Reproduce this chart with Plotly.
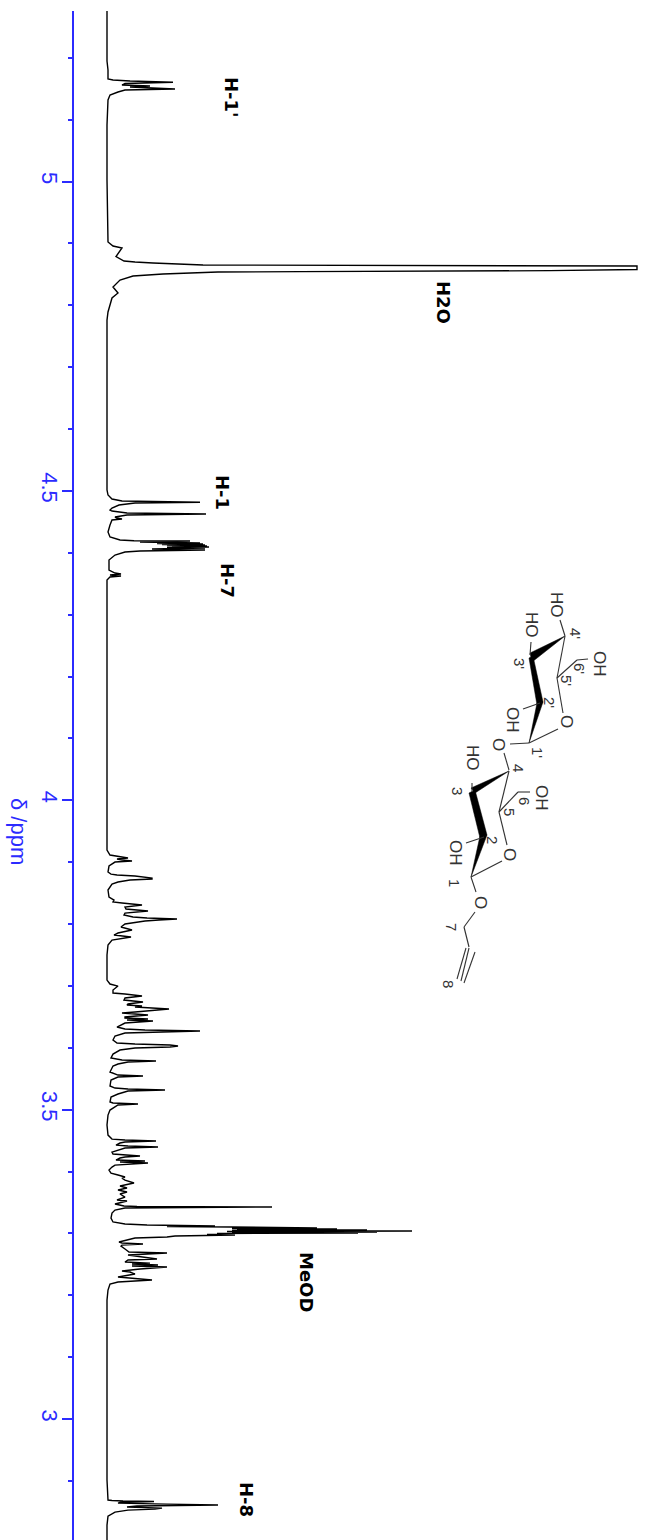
import plotly.graph_objects as go

# Spectrum, region by region: (chemical shift in ppm, signal height in a.u.)
h1p_region = [(5.2755,0),(5.1947,0),(5.1802,1),(5.1656,1),(5.1640,6),(5.1624,23),(5.1603,66),(5.1583,18),(5.1559,15),
              (5.1543,43),(5.1527,23),(5.1495,68),(5.1487,43),(5.1478,18),(5.1446,11),(5.1398,3),(5.1317,1),(5.0913,0)]
water_region = [(5.0024,0),(4.9539,0.5),(4.9022,1),(4.8957,6),(4.8925,15),(4.8787,9),(4.8715,17),(4.8699,28),(4.8682,46),
                (4.8650,96),(4.8645,193),(4.8634,530),(4.8577,530),(4.8559,443),(4.8543,193),(4.8537,111),(4.8505,56),
                (4.8472,26),(4.8408,13),(4.8294,6),(4.8198,11),(4.8117,5),(4.7891,1),(4.7761,0)]
h1_h7_region = [(4.5175,0),(4.5014,0),(4.4933,1),(4.4868,5),(4.4836,15),(4.4815,93),(4.4803,28),(4.4771,12),(4.4723,5),
                (4.4690,3),(4.4674,5),(4.4642,20),(4.4626,99),(4.4610,20),(4.4577,8),(4.4561,10),(4.4545,15),(4.4529,5),
                (4.4448,3),(4.4335,1),(4.4254,3),(4.4206,13),(4.4194,27),(4.4189,83),(4.4173,33),(4.4157,93),(4.4149,50),
                (4.4141,96),(4.4133,55),(4.4125,98),(4.4117,60),(4.4109,100),(4.4100,65),(4.4092,102),(4.4084,60),
                (4.4076,98),(4.4060,45),(4.4044,98),(4.4028,33),(4.4012,18),(4.3963,8),(4.3882,2),(4.3721,2),(4.3672,8),
                (4.3656,14),(4.3640,3),(4.3624,14),(4.3608,3),(4.3559,0),(4.3236,0)]
sugar_a = [(4.0003,0),(3.9357,0),(3.9195,0),(3.9115,3),(3.9082,18),(3.9066,21),(3.9050,10),(3.9034,15),(3.9017,25),(3.9001,8),
           (3.8937,2),(3.8840,1),(3.8807,4),(3.8791,10),(3.8775,28),(3.8759,40),(3.8743,45),(3.8727,45),(3.8711,23),(3.8678,11),
           (3.8646,5),(3.8549,1),(3.8436,2),(3.8387,7),(3.8355,6),(3.8339,15),(3.8306,35),(3.8274,18),(3.8242,19),(3.8209,41),
           (3.8177,18),(3.8145,17),(3.8113,26),(3.8096,40),(3.8080,70),(3.8064,52),(3.8048,38),(3.8000,18),(3.7967,15),(3.7951,14),
           (3.7903,25),(3.7854,11),(3.7822,7),(3.7790,24),(3.7741,5),(3.7660,1),(3.7499,0)]
sugar_b = [(3.7094,0),(3.7030,3),(3.6997,11),(3.6933,6),(3.6884,6),(3.6868,18),(3.6836,35),(3.6804,18),(3.6771,17),(3.6739,36),
           (3.6707,21),(3.6691,20),(3.6674,35),(3.6658,28),(3.6642,55),(3.6626,62),(3.6577,28),(3.6561,15),(3.6529,41),(3.6497,18),
           (3.6480,18),(3.6464,41),(3.6448,20),(3.6432,46),(3.6400,18),(3.6351,11),(3.6335,10),(3.6303,18),(3.6287,38),(3.6270,93),
           (3.6254,33),(3.6238,18),(3.6190,8),(3.6125,6),(3.6076,10),(3.6060,28),(3.6044,63),(3.6028,71),(3.6012,63),(3.5995,28),
           (3.5963,13),(3.5898,6),(3.5834,4),(3.5818,8),(3.5802,15),(3.5785,49),(3.5769,21),(3.5737,11),(3.5705,6),(3.5608,3),
           (3.5559,11),(3.5543,36),(3.5527,11),(3.5479,4),(3.5382,3),(3.5349,8),(3.5333,21),(3.5317,58),(3.5301,21),(3.5252,11),
           (3.5204,4),(3.5123,3),(3.5107,6),(3.5091,31),(3.5075,11),(3.4993,3),(3.4912,1),(3.4751,0)]
sugar_c = [(3.4589,1),(3.4524,5),(3.4508,18),(3.4492,49),(3.4476,18),(3.4460,13),(3.4427,9),(3.4411,21),(3.4395,51),(3.4379,18),
           (3.4314,5),(3.4282,6),(3.4266,18),(3.4250,33),(3.4234,18),(3.4218,13),(3.4185,9),(3.4169,38),(3.4153,13),(3.4137,41),
           (3.4104,8),(3.4072,5),(3.4024,2),(3.3975,4),(3.3943,11),(3.3911,18),(3.3894,15),(3.3862,18),(3.3814,27),(3.3765,13),
           (3.3733,20),(3.3701,11),(3.3668,20),(3.3636,13),(3.3587,18),(3.3539,10),(3.3523,20),(3.3474,8),(3.3442,17),(3.3434,30),
           (3.3426,165),(3.3418,30),(3.3410,18),(3.3377,8),(3.3329,5),(3.3248,4),(3.3184,6)]
meod_region = [(3.3151,18),(3.3135,40),(3.3119,108),(3.3111,60),(3.3103,125),(3.3095,150),(3.3086,210),(3.3078,125),(3.3070,230),
               (3.3062,130),(3.3054,260),(3.3046,125),(3.3038,305),(3.3030,120),(3.3022,270),(3.3014,125),(3.3006,251),(3.2998,110),
               (3.2989,128),(3.2981,100),(3.2973,128),(3.2957,68),(3.2941,60),(3.2925,28),(3.2892,18),(3.2860,12),(3.2844,15),
               (3.2828,36),(3.2811,15),(3.2795,14),(3.2747,18),(3.2698,22),(3.2682,60),(3.2650,21),(3.2585,50),(3.2569,21),(3.2537,18),
               (3.2520,43),(3.2504,25),(3.2488,51),(3.2472,25),(3.2456,60),(3.2424,33),(3.2391,15),(3.2375,23),(3.2343,28),(3.2294,11),
               (3.2246,45),(3.2214,11),(3.2181,3),(3.2084,1),(3.1922,0)]
h8_region = [(3.0306,0),(2.9013,0),(2.8690,1),(2.8682,5),(2.8674,16),(2.8666,47),(2.8650,13),(2.8641,11),(2.8625,60),(2.8609,111),
             (2.8593,30),(2.8577,20),(2.8560,55),(2.8544,48),(2.8528,21),(2.8496,8),(2.8431,1),(2.8286,0),(2.8044,0)]

regions = [h1p_region, water_region, h1_h7_region, sugar_a, sugar_b, sugar_c, meod_region, h8_region]
ppm = [p for r in regions for p, _ in r]
signal = [s for r in regions for _, s in r]

tick_values = [3, 3.5, 4, 4.5, 5]
tick_labels = ["3", "3.5", "4", "4.5", "5"]
peak_names = ["H-1'", "H2O", "H-1", "H-7", "MeOD", "H-8"]

AXIS_BLUE = "#2b2bff"
W, H = 645, 1540
TOP = 11
PPM_PER_PX = 2.0 / 1237.5
ppm_top = 5 + (181.5 - TOP) * PPM_PER_PX
ppm_bot = 3 - (H - 1419) * PPM_PER_PX

fig = go.Figure()
fig.add_trace(go.Scatter(x=signal, y=ppm, mode="lines", line=dict(color="black", width=1.4),
                         hoverinfo="skip", showlegend=False))
# invisible pixel-space layer for the drawn structure and labels
fig.add_trace(go.Scatter(x=[0], y=[TOP], xaxis="x2", yaxis="y2", mode="markers",
                         marker=dict(opacity=0), showlegend=False, hoverinfo="skip"))

shapes, annots = [], []
def bond(x0, y0, x1, y1, w=1.1, c="#333333"):
    shapes.append(dict(type="line", xref="x2", yref="y2", x0=x0, y0=y0, x1=x1, y1=y1,
                       line=dict(color=c, width=w)))
def poly(pts):
    path = "M " + " L ".join(f"{a},{b}" for a, b in pts) + " Z"
    shapes.append(dict(type="path", xref="x2", yref="y2", path=path,
                       fillcolor="black", line=dict(color="black", width=0.5)))
def text(x, y, s, size=14, color="#333333", bold=False, family="Liberation Sans"):
    annots.append(dict(xref="x2", yref="y2", x=x, y=y, text=f"<b>{s}</b>" if bold else s,
                       showarrow=False, textangle=90, xanchor="center", yanchor="middle",
                       font=dict(family=family, size=size, color=color)))

# upper ring
poly([(565,636),(530,653),(532,662)])
poly([(529,658),(533,656),(543,702),(537,705)])
poly([(537,703),(543,702),(529,743)])
for b in [(565,636,557,678),(557,678,563,713),(529,743,558,729),(557,678,577,660),(577,660,588,659),
          (560,620,565,636),(531,642,530,655),(523,709,540,703),(510,744,529,743),(504,753,509,770)]:
    bond(*b)
# lower ring
poly([(509,771),(471,788),(475,793)])
poly([(469,793),(475,790),(487,835),(480,838)])
poly([(480,836),(487,835),(471,877)])
for b in [(509,771,499,812),(499,812,507,845),(471,877,502,861),(499,812,518,792),(518,792,530,792),
          (472,783,472,792),(466,843,484,837),(471,877,476,892),(475,912,464,927),(464,927,469,947),
          (466,948,457,979),(469,948,461,981),(475,952,464,983)]:
    bond(*b)

for x, y, s, fs in [(557,605,"HO",17),(532,625,"HO",17),(600,664,"OH",17),(513,720,"OH",17),(567,721,"O",17),
                    (499,744,"O",17),(473,758,"HO",17),(542,798,"OH",17),(456,853,"OH",17),(510,854,"O",17),
                    (481,902,"O",17),
                    (576,633,"4'",15),(520,663,"3'",15),(580,668,"6'",15),(567,680,"5'",15),(550,702,"2'",15),(538,752,"1'",15),
                    (519,768,"4",15),(458,791,"3",15),(525,801,"6",15),(510,812,"5",15),(493,840,"2",15),(455,883,"1",15),
                    (452,927,"7",15),(449,984,"8",15)]:
    text(x, y, s, fs)

for (x, y), s in zip([(231,97),(443,302),(222,492),(228,580),(307,1282),(247,1499)], peak_names):
    text(x, y, s, size=18, color="black", bold=True, family="DejaVu Sans")

text(19, 831, "δ /ppm", size=22, color=AXIS_BLUE)

fig.update_layout(
    width=W, height=H, margin=dict(l=0, r=0, t=0, b=0),
    paper_bgcolor="white", plot_bgcolor="white", showlegend=False,
    shapes=shapes, annotations=annots,
    xaxis=dict(domain=[0, 1], range=[-107, 538], visible=False, fixedrange=True),
    yaxis=dict(domain=[0, 1 - TOP / H], range=[ppm_bot, ppm_top], anchor="free", position=73 / W,
               side="left", showgrid=False, zeroline=False, showline=True, linecolor=AXIS_BLUE, linewidth=1.5,
               ticks="outside", ticklen=10, tickwidth=1.5, tickcolor=AXIS_BLUE,
               tickvals=tick_values, ticktext=tick_labels, tickangle=90, ticklabelstandoff=-6,
               tickfont=dict(family="Liberation Sans", size=22, color=AXIS_BLUE),
               minor=dict(dtick=0.1, ticks="outside", ticklen=4, tickwidth=1.5, tickcolor=AXIS_BLUE, showgrid=False)),
    xaxis2=dict(domain=[0, 1], range=[0, W], visible=False, overlaying="x", anchor="y2"),
    yaxis2=dict(domain=[0, 1 - TOP / H], range=[H, TOP], visible=False, overlaying="y", anchor="x2"),
)
fig.write_html("out.html", config=dict(displayModeBar=False),
               post_script="document.body.style.margin='0';")
